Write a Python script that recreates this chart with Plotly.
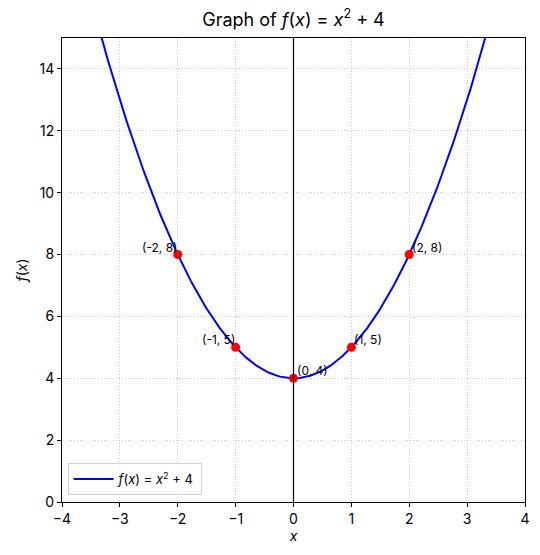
import numpy as np
import plotly.graph_objects as go

# Data
pts_x = [-2, -1, 0, 1, 2]
pts_y = [8, 5, 4, 5, 8]
pt_labels = ["(-2, 8)", "(-1, 5)", "(0, 4)", "(1, 5)", "(2, 8)"]
x_ticks = [-4, -3, -2, -1, 0, 1, 2, 3, 4]
y_ticks = [0, 2, 4, 6, 8, 10, 12, 14]
x_range = [-4, 4]
y_range = [0, 15]

curve_x = np.linspace(-4, 4, 400)
curve_y = curve_x ** 2 + 4

FONT = "Inter"
fig = go.Figure()
fig.add_trace(go.Scatter(
    x=curve_x, y=curve_y, mode="lines",
    line=dict(color="#0000ff", width=2),
    name="<i>f</i>(<i>x</i>) = <i>x</i><sup>2</sup> + 4",
))
fig.add_trace(go.Scatter(
    x=pts_x, y=pts_y, mode="markers",
    marker=dict(color="#ff0000", size=9),
    showlegend=False,
))

fig.add_shape(type="line", x0=0, x1=0, xref="x", y0=0, y1=1, yref="paper",
              line=dict(color="black", width=1.2), layer="above")

for px, py, lab in zip(pts_x, pts_y, pt_labels):
    left = px < 0
    fig.add_annotation(
        x=px, y=py, text=lab, showarrow=False,
        xanchor="right" if left else "left", yanchor="bottom",
        xshift=1, yshift=-2,
        font=dict(family=FONT, size=12, color="black"),
    )

axis_common = dict(
    showline=True, linecolor="black", linewidth=1, mirror=True,
    ticks="outside", ticklen=4, tickcolor="black",
    showgrid=True, gridcolor="#cfcfcf", griddash="1px,2px", gridwidth=0.8,
    zeroline=False,
    tickfont=dict(family=FONT, size=14, color="black"),
)

fig.update_layout(
    width=540, height=555,
    margin=dict(l=62, r=10, t=38, b=53),
    paper_bgcolor="white", plot_bgcolor="white",
    title=dict(
        text="Graph of <i>f</i>(<i>x</i>) = <i>x</i><sup>2</sup> + 4",
        x=0.5, xref="paper", xanchor="center", y=0.965, yanchor="middle",
        font=dict(family=FONT, size=18, color="black"),
    ),
    xaxis=dict(range=x_range, tickvals=x_ticks,
               ticktext=[str(t).replace("-", "\u2212") for t in x_ticks],
               title=dict(text="<i>x</i>", standoff=4,
                          font=dict(family=FONT, size=14, color="black")),
               **axis_common),
    yaxis=dict(range=y_range, tickvals=y_ticks,
               title=dict(text="<i>f</i>(<i>x</i>)", standoff=8,
                          font=dict(family=FONT, size=14, color="black")),
               **axis_common),
    legend=dict(x=0.012, y=0.015, xanchor="left", yanchor="bottom",
                bgcolor="rgba(255,255,255,0.8)", bordercolor="#d0d0d0", borderwidth=1,
                itemwidth=40,
                font=dict(family=FONT, size=13, color="black")),
)

fig.write_html("out.html")
